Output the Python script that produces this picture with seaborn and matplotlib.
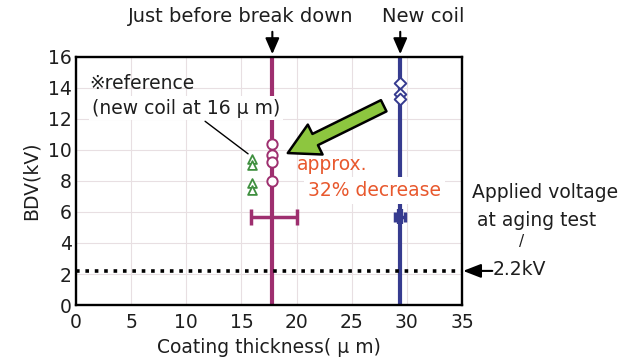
import numpy as np
import pandas as pd
import matplotlib
matplotlib.use("Agg")
import matplotlib.pyplot as plt
import seaborn as sns

# Breakdown voltage (BDV) measurements versus coating thickness
aged_thickness = 17.8            # coil just before break down (um)
aged_bdv = [10.4, 9.7, 9.25, 8.0]
aged_err_bdv = 5.7
aged_thickness_range = [15.9, 20.0]

new_thickness = 29.4             # new coil (um)
new_bdv = [14.3, 13.6, 13.3]
new_err_bdv = 5.7
new_thickness_range = [28.95, 29.85]

ref_thickness = 16.0             # reference: new coil at 16 um
ref_bdv = [9.4, 9.0, 7.9, 7.4]

applied_voltage = 2.2            # kV, aging test

x_ticks = [0, 5, 10, 15, 20, 25, 30, 35]
y_ticks = [0, 2, 4, 6, 8, 10, 12, 14, 16]

MAGENTA = "#9e2f6f"
BLUE = "#363b8f"
GREEN = "#3f8f3f"
ARROW_GREEN = "#8dc63f"
ORANGE = "#e8582d"
INK = "#1e1e1e"
FS = 13.5

sns.set_theme(style="white")
plt.rcParams["font.family"] = ["DejaVu Sans", "Noto Sans CJK JP"]
plt.rcParams["text.color"] = INK

df = pd.concat([
    pd.DataFrame({"thickness": aged_thickness, "bdv": aged_bdv, "group": "aged"}),
    pd.DataFrame({"thickness": new_thickness, "bdv": new_bdv, "group": "new"}),
    pd.DataFrame({"thickness": ref_thickness, "bdv": ref_bdv, "group": "ref"}),
], ignore_index=True)

fig = plt.figure(figsize=(6.34, 3.58), dpi=100)
ax = fig.add_axes([0.12, 0.148, 0.6087, 0.693])

ax.set_xlim(0, 35)
ax.set_ylim(0, 16)
ax.set_xticks(x_ticks)
ax.set_yticks(y_ticks)
ax.grid(True, color="#e8dfe2", linewidth=0.8, zorder=0)
ax.set_axisbelow(True)
for s in ax.spines.values():
    s.set_color("black")
    s.set_linewidth(1.7)
    s.set_zorder(6)
ax.tick_params(axis="both", length=0, labelsize=FS, colors=INK)
ax.tick_params(axis="x", pad=6)
ax.tick_params(axis="y", pad=3)

# vertical guide lines at each coil thickness
ax.axvline(aged_thickness, color=MAGENTA, lw=3, zorder=2)
ax.axvline(new_thickness, color=BLUE, lw=3, zorder=2)

# applied voltage during aging test
ax.axhline(applied_voltage, color="black", lw=2.6, linestyle=(0, (1, 1.6)), zorder=3)

# thickness spread bars
ax.errorbar(aged_thickness, aged_err_bdv,
            xerr=[[aged_thickness - aged_thickness_range[0]], [aged_thickness_range[1] - aged_thickness]],
            fmt="none", ecolor=MAGENTA, elinewidth=2.5, capsize=5.5, capthick=2.5, zorder=3)
ax.errorbar(new_thickness, new_err_bdv,
            xerr=[[new_thickness - new_thickness_range[0]], [new_thickness_range[1] - new_thickness]],
            fmt="none", ecolor=BLUE, elinewidth=2.5, capsize=3.5, capthick=2.5, zorder=3)
ax.errorbar(new_thickness, new_err_bdv, yerr=0.5,
            fmt="none", ecolor=BLUE, elinewidth=4.5, capsize=0, zorder=3)

sns.scatterplot(data=df[df.group == "aged"], x="thickness", y="bdv", ax=ax,
                marker="o", s=55, facecolor="white", edgecolor=MAGENTA, linewidth=1.4, zorder=4, legend=False)
sns.scatterplot(data=df[df.group == "new"], x="thickness", y="bdv", ax=ax,
                marker="D", s=35, facecolor="white", edgecolor=BLUE, linewidth=1.4, zorder=4, legend=False)
sns.scatterplot(data=df[df.group == "ref"], x="thickness", y="bdv", ax=ax,
                marker="^", s=40, facecolor="white", edgecolor=GREEN, linewidth=1.3, zorder=4, legend=False)

ax.set_xlabel("Coating thickness( \u03bc m)", fontsize=FS, labelpad=4, color=INK)
ax.set_ylabel("BDV(kV)", fontsize=FS, labelpad=5, color=INK)

# headers with arrows above the plot
ax.text(14.9, 18.6, "Just before break down", ha="center", va="center", fontsize=14, clip_on=False)
ax.annotate("", xy=(aged_thickness, 16), xytext=(aged_thickness, 17.8),
            arrowprops=dict(arrowstyle="-|>,head_length=0.8,head_width=0.35", color="black", lw=1.5),
            annotation_clip=False)
ax.text(31.5, 18.6, "New coil", ha="center", va="center", fontsize=14, clip_on=False)
ax.annotate("", xy=(new_thickness, 16), xytext=(new_thickness, 17.8),
            arrowprops=dict(arrowstyle="-|>,head_length=0.8,head_width=0.35", color="black", lw=1.5),
            annotation_clip=False)

# reference note
ax.text(1.2, 14.3, "\u203breference", ha="left", va="center", fontsize=FS, zorder=5)
ax.text(1.4, 12.7, "(new coil at 16 \u03bc m)", ha="left", va="center", fontsize=FS, zorder=5,
        bbox=dict(facecolor="white", edgecolor="none", pad=2))
ax.plot([11.7, 15.6], [11.85, 9.75], color="black", lw=1.0, zorder=5)

# decrease arrow and label
ax.annotate("", xy=(19.2, 9.8), xytext=(27.9, 12.85),
            arrowprops=dict(arrowstyle="simple,head_length=1.1,head_width=1.2,tail_width=0.45",
                            fc=ARROW_GREEN, ec="black", lw=1.8, mutation_scale=20, shrinkA=0, shrinkB=0),
            zorder=5)
ax.text(20.0, 9.05, "approx.", ha="left", va="center", fontsize=FS, color=ORANGE, zorder=5)
ax.text(21.0, 7.4, "32% decrease", ha="left", va="center", fontsize=FS, color=ORANGE, zorder=5,
        bbox=dict(facecolor="white", edgecolor="none", pad=3))

# applied voltage annotation outside the plot
ax.text(35.9, 7.25, "Applied voltage", ha="left", va="center", fontsize=FS, clip_on=False)
ax.text(36.35, 5.45, "at aging test", ha="left", va="center", fontsize=FS, clip_on=False)
ax.text(40.4, 4.1, "/", ha="center", va="center", fontsize=11, clip_on=False)
ax.annotate("", xy=(35.1, applied_voltage), xytext=(37.75, applied_voltage),
            arrowprops=dict(arrowstyle="-|>,head_length=0.9,head_width=0.35", color="black", lw=1.5,
                            shrinkA=0, shrinkB=0, mutation_scale=12),
            annotation_clip=False)
ax.text(37.75, 2.3, "2.2kV", ha="left", va="center", fontsize=FS, clip_on=False)

fig.savefig("out.png", dpi=100)
